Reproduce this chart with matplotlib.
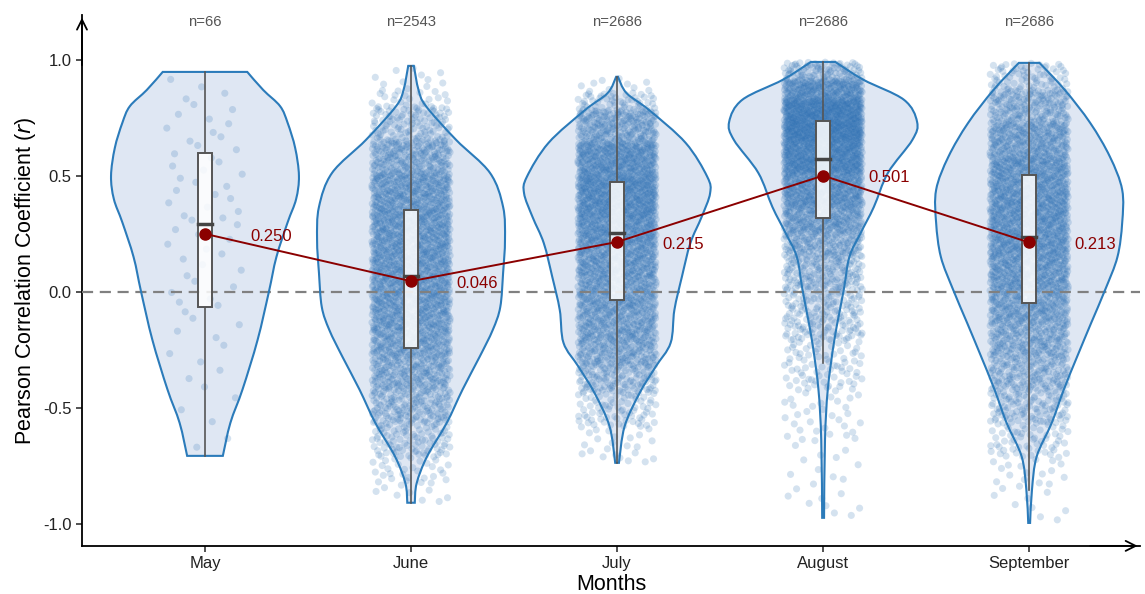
#Violin + box + jitter chart of monthly Pearson correlations
import numpy as np
import matplotlib.pyplot as plt
from matplotlib.path import Path
from matplotlib.patches import PathPatch

plt.rcParams['font.family'] = ['Liberation Sans', 'DejaVu Sans']

months = ['May', 'June', 'July', 'August', 'September']
counts = [66, 2543, 2686, 2686, 2686]
means = [0.250, 0.046, 0.215, 0.501, 0.213]

#box stats: whisker low, q1, median, q3, whisker high
box_stats = [
    [-0.707, -0.065, 0.293, 0.600, 0.948],
    [-0.909, -0.240, 0.068, 0.353, 0.974],
    [-0.737, -0.034, 0.254, 0.474, 0.927],
    [-0.306, 0.319, 0.573, 0.737, 0.991],
    [-0.853, -0.047, 0.237, 0.504, 0.987],
]

#violin outlines: y levels and relative half widths (1 = widest)
violin_y = [
    [0.948, 0.87, 0.80, 0.728, 0.62, 0.50, 0.40, 0.30, 0.15, 0.0, -0.207, -0.42, -0.565, -0.707],
    [0.974, 0.87, 0.80, 0.655, 0.513, 0.366, 0.224, 0.082, -0.065, -0.164, -0.28, -0.42, -0.565, -0.71, -0.825, -0.909],
    [0.927, 0.857, 0.784, 0.642, 0.496, 0.425, 0.323, 0.21, 0.065, -0.078, -0.22, -0.323, -0.436, -0.58, -0.737],
    [0.991, 0.914, 0.828, 0.733, 0.655, 0.513, 0.366, 0.254, 0.151, 0.01, -0.207, -0.42, -0.64, -0.974],
    [0.987, 0.87, 0.728, 0.582, 0.44, 0.297, 0.151, 0.01, -0.134, -0.28, -0.42, -0.565, -0.71, -0.853, -0.996],
]
violin_w = [
    [0.45, 0.62, 0.80, 0.88, 0.96, 1.0, 0.97, 0.88, 0.76, 0.68, 0.56, 0.40, 0.27, 0.19],
    [0.03, 0.08, 0.16, 0.48, 0.84, 0.98, 1.0, 0.98, 0.95, 0.87, 0.73, 0.55, 0.38, 0.17, 0.06, 0.04],
    [0.01, 0.10, 0.34, 0.73, 0.96, 0.99, 0.90, 0.78, 0.69, 0.61, 0.57, 0.41, 0.24, 0.08, 0.02],
    [0.13, 0.43, 0.86, 1.0, 0.95, 0.69, 0.54, 0.40, 0.28, 0.22, 0.12, 0.05, 0.02, 0.01],
    [0.11, 0.38, 0.65, 0.86, 0.99, 0.99, 0.94, 0.81, 0.66, 0.51, 0.37, 0.24, 0.08, 0.03, 0.01],
]

edge_blue = '#2b7bba'
fill_blue = '#dfe7f3'
dot_blue = '#2c6fb3'
dark_red = '#8b0000'


#low discrepancy sequence, used to spread the points without random numbers
def halton(k, b):
    f, r = 1.0, 0.0
    while k > 0:
        f /= b
        r += f * (k % b)
        k //= b
    return r


#smooth side of a violin as bezier segments (catmull-rom control points)
def side_segments(pts):
    P = np.vstack([pts[0], pts, pts[-1]])
    verts = []
    for j in range(1, len(P) - 2):
        b1 = P[j] + (P[j + 1] - P[j - 1]) / 6
        b2 = P[j + 1] - (P[j + 2] - P[j]) / 6
        verts += [b1, b2, P[j + 1]]
    return verts


fig, ax = plt.subplots(figsize=(11.45, 5.94), dpi=100)
fig.subplots_adjust(left=0.0716, right=0.996, bottom=0.081, top=0.975)

half = 0.456   #widest half width of a violin
jit = 0.19     #jitter half width

for i, m in enumerate(months):
    y = np.array(violin_y[i])
    w = np.array(violin_w[i]) * half

    right = np.column_stack([i + w, y])
    left = np.column_stack([i - w, y])[::-1]
    verts = [left[-1], right[0]]
    codes = [Path.MOVETO, Path.LINETO]
    seg = side_segments(right)
    verts += seg
    codes += [Path.CURVE4] * len(seg)
    verts.append(left[0])
    codes.append(Path.LINETO)
    seg = side_segments(left)
    verts += seg
    codes += [Path.CURVE4] * len(seg)
    verts.append(left[-1])
    codes.append(Path.CLOSEPOLY)
    path = Path(np.array(verts), codes)
    ax.add_patch(PathPatch(path, facecolor=fill_blue, edgecolor='none', zorder=1))
    ax.add_patch(PathPatch(path, facecolor='none', edgecolor=edge_blue, lw=1.5, zorder=4))

    #points spread along the outline's density
    ys = y[::-1]
    ws = w[::-1]
    cdf = np.r_[0, np.cumsum((ws[1:] + ws[:-1]) / 2 * np.diff(ys))]
    cdf = cdf / cdf[-1]
    n = counts[i]
    q = np.array([halton(k + 1, 2) for k in range(n)])
    u = np.array([halton(k + 1, 3) for k in range(n)])
    py = np.interp(q, cdf, ys)
    px = i + (u - 0.5) * 2 * jit
    ax.scatter(px, py, s=26, color=dot_blue, alpha=0.2, edgecolors='none', zorder=2)

    lo, q1, med, q3, hi = box_stats[i]
    bw = 0.034
    ax.plot([i, i], [lo, q1], color='#555555', lw=1.2, zorder=5)
    ax.plot([i, i], [q3, hi], color='#555555', lw=1.2, zorder=5)
    ax.add_patch(plt.Rectangle((i - bw, q1), 2 * bw, q3 - q1, facecolor='white',
                               alpha=0.85, edgecolor='none', zorder=5))
    ax.add_patch(plt.Rectangle((i - bw, q1), 2 * bw, q3 - q1, facecolor='none',
                               edgecolor='#555555', lw=1.4, zorder=6))
    ax.plot([i - bw, i + bw], [med, med], color='#444444', lw=2.5, zorder=6)

    ax.text(i, 1.165, 'n={}'.format(counts[i]), ha='center', va='center',
            fontsize=10.7, color='#555555')
    ax.text(i + 0.22, means[i] - 0.01, '{:.3f}'.format(means[i]), ha='left', va='center',
            fontsize=12, color=dark_red, zorder=8)

xs = np.arange(len(months))
ax.plot(xs, means, color=dark_red, lw=1.4, marker='o', markersize=8, zorder=7)
ax.axhline(0, color='#808080', ls=(0, (5, 3)), lw=1.6, zorder=3)

ax.set_xlim(-0.597, 4.54)
ax.set_ylim(-1.095, 1.194)
ax.set_xticks(xs)
ax.set_xticklabels(months, fontsize=12)
ax.set_yticks([-1.0, -0.5, 0.0, 0.5, 1.0])
ax.set_yticklabels(['-1.0', '-0.5', '0.0', '0.5', '1.0'], fontsize=12)
ax.tick_params(length=4, width=1.2, color='#333333', labelcolor='#222222')
ax.set_xlabel('Months', fontsize=15.5, labelpad=2)
ax.set_ylabel('Pearson Correlation Coefficient ($\\mathit{r}$)', fontsize=15.5)

for s in ['top', 'right']:
    ax.spines[s].set_visible(False)
for s in ['left', 'bottom']:
    ax.spines[s].set_linewidth(1.3)
ax.annotate('', xy=(0, 1.0), xycoords='axes fraction', xytext=(0, 0.9),
            arrowprops=dict(arrowstyle='->', lw=1.3, color='black', mutation_scale=18))
ax.annotate('', xy=(1.0, 0), xycoords='axes fraction', xytext=(0.95, 0),
            arrowprops=dict(arrowstyle='->', lw=1.3, color='black', mutation_scale=18))

plt.savefig('out.png')
